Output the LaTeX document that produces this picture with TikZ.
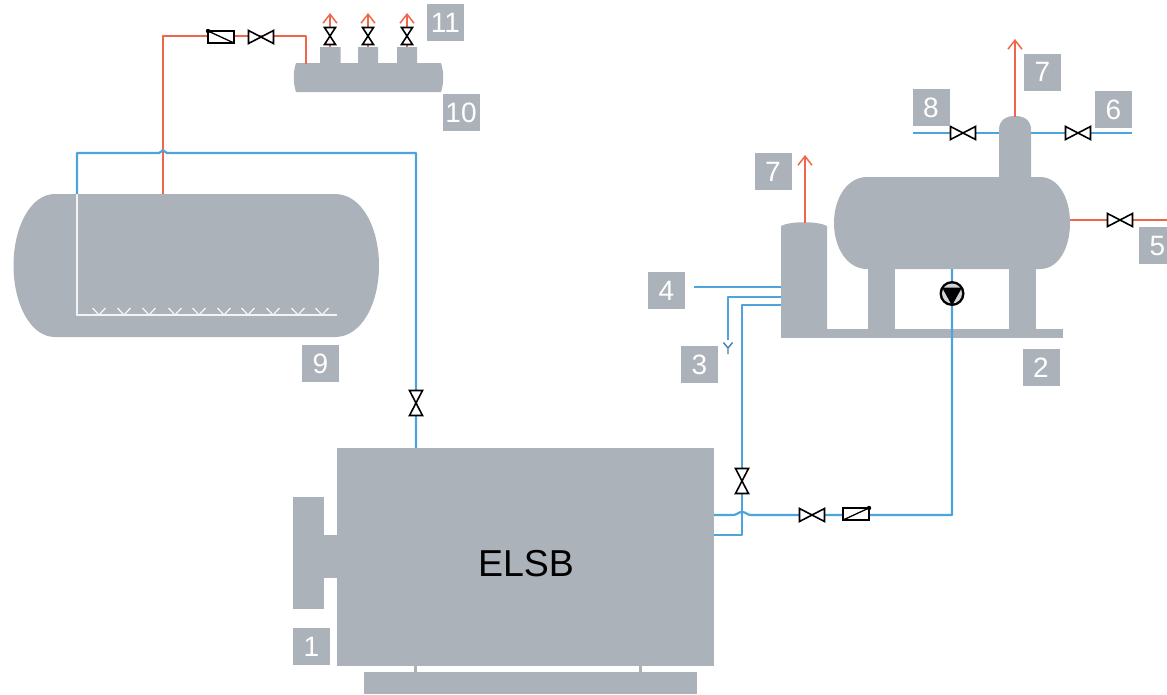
\documentclass[tikz,border=0pt]{standalone}
\usepackage{fontspec}
\setmainfont{Liberation Sans}
\usetikzlibrary{calc,arrows.meta}
\definecolor{vesselgrey}{HTML}{ACB2BA}
\definecolor{pipeblue}{HTML}{4DA3DC}
\definecolor{pipered}{HTML}{F0664A}
\tikzset{
  vessel/.style={fill=vesselgrey,draw=none},
  tag/.style={rectangle,fill=vesselgrey,text=white,minimum size=37pt,inner sep=0pt,font=\fontsize{28}{30}\selectfont},
  bluepipe/.style={draw=pipeblue,line width=2.2pt,line join=round},
  redpipe/.style={draw=pipered,line width=2.2pt,line join=round},
  redarrow/.style={redpipe,-{Straight Barb[length=9pt,width=14pt,line width=1.5pt]}},
  whitepipe/.style={draw=white!85!vesselgrey,line width=1.8pt},
  valveh/.pic={\draw[fill=white,line width=1.6pt,line join=miter] (-12.5,-6.5) -- (12.5,6.5) -- (12.5,-6.5) -- (-12.5,6.5) -- cycle;},
  valvev/.pic={\draw[fill=white,line width=1.6pt,line join=miter] (-6.5,-12.5) -- (6.5,12.5) -- (-6.5,12.5) -- (6.5,-12.5) -- cycle;},
  valvesmall/.pic={\draw[fill=white,line width=1.6pt,line join=miter] (-5.5,-8.5) -- (5.5,8.5) -- (-5.5,8.5) -- (5.5,-8.5) -- cycle;},
  checkdown/.pic={\draw[fill=white,line width=1.6pt] (-13,-6) rectangle (13,6);\draw[line width=1.3pt] (-13,-6) -- (13,6);\fill (-13,-6) circle (2.2);},
  checkup/.pic={\draw[fill=white,line width=1.6pt] (-13,-6) rectangle (13,6);\draw[line width=1.3pt] (-13,6) -- (13,-6);\fill (13,-6) circle (2.2);},
  sparger/.pic={\draw[draw=white!85!vesselgrey,line width=1.3pt] (-6.5,-7) -- (0,0) -- (6.5,-7);}
}
\begin{document}
\begin{tikzpicture}[x=1pt,y=-1pt]
\useasboundingbox (0,0) rectangle (1167,694);
\clip (0,0) rectangle (1167,694);
% ---- coordinates
\coordinate (tankA) at (77,194);
\coordinate (tankCorner) at (77,315);
\coordinate (tankEnd) at (337,315);
\coordinate (tankB) at (163,194);
\coordinate (a1) at (77,153);
\coordinate (a2) at (416,153);
\coordinate (hopTop) at (163,153);
\coordinate (a3) at (416,448);
\coordinate (r1) at (163,36);
\coordinate (r2) at (306,36);
\coordinate (r3) at (306,64);
\coordinate (vTop1) at (261,37);
\coordinate (ckTop) at (221,37);
\coordinate (vBoiler) at (416,403);
\coordinate (outA) at (714,515);
\coordinate (outB) at (714,535);
\coordinate (hopR) at (742,515);
\coordinate (cornerB) at (742,535);
\coordinate (fwTop) at (742,305);
\coordinate (fwIn) at (781,305);
\coordinate (vFw) at (742,481);
\coordinate (vLow) at (812,515);
\coordinate (ckLow) at (856,514);
\coordinate (c1) at (952,515);
\coordinate (vesselBot) at (952,269);
\coordinate (pump) at (952,293.5);
\coordinate (in4a) at (694,287);
\coordinate (in4b) at (781,287);
\coordinate (dr1) at (781,297);
\coordinate (dr2) at (728,297);
\coordinate (dr3) at (728,340);
\coordinate (blow8) at (913,133);
\coordinate (domeL) at (999,133);
\coordinate (domeR) at (1031,133);
\coordinate (blow6) at (1132,133);
\coordinate (v8) at (963,133);
\coordinate (v6) at (1078,133);
\coordinate (shellR) at (1070,220);
\coordinate (edge5) at (1167,220);
\coordinate (v5) at (1120,220);
\coordinate (domeTop) at (1015,117);
\coordinate (arr7a) at (1015,39);
\coordinate (smallTop) at (805,223);
\coordinate (arr7b) at (805,155);
\coordinate (stub1) at (330,47);
\coordinate (stub2) at (368,47);
\coordinate (stub3) at (407,47);
\coordinate (up1) at (330,13);
\coordinate (up2) at (368,13);
\coordinate (up3) at (407,13);
% ---- vessels
\path[vessel] (55,194) -- (335,194) .. controls (362,194) and (379,228) .. (379,265.5) .. controls (379,303) and (362,337) .. (335,337) -- (55,337) .. controls (30,337) and (13.5,303) .. (13.5,265.5) .. controls (13.5,228) and (30,194) .. (55,194) -- cycle;
\path[vessel] (296,63) -- (320,63) -- (320,47) -- (340.5,47) -- (340.5,63) -- (358,63) -- (358,47) -- (378,47) -- (378,63) -- (397,63) -- (397,47) -- (417,47) -- (417,63) -- (441,63) .. controls (444,72) and (444,83) .. (441,92) -- (296,92) .. controls (293,83) and (293,72) .. (296,63) -- cycle;
\path[vessel] (337,448) rectangle (714,666);
\path[vessel] (293,497) rectangle (323.5,609);
\path[vessel] (323,535) rectangle (338,578);
\path[vessel] (364,672) rectangle (697,694);
\path[vessel] (413.5,665) rectangle (416.5,673);
\path[vessel] (638.5,665) rectangle (641.5,673);
% feedwater vessel
\path[vessel] (867,177) -- (999,177) -- (999,130) .. controls (999,120) and (1006,116) .. (1015,116) .. controls (1024,116) and (1031,120) .. (1031,130) -- (1031,177) -- (1040,177) .. controls (1058,177) and (1070,197) .. (1070,223) .. controls (1070,249) and (1058,269) .. (1040,269) -- (867,269) .. controls (848,269) and (834,249) .. (834,223) .. controls (834,197) and (848,177) .. (867,177) -- cycle;
\path[vessel] (868,268) rectangle (895,330);
\path[vessel] (1009,268) rectangle (1036,330);
\path[vessel] (781,329) rectangle (1063,338);
\path[vessel] (781,330) -- (781,226) .. controls (790,221) and (818,221) .. (827,226) -- (827,330) -- cycle;
% ---- internal pipe of tank
\draw[whitepipe] (tankA) -- (tankCorner) -- (tankEnd);
\foreach \sx in {99,124,149,175,199,224,248,273,298,322}{\pic at (\sx,315) {sparger};}
% ---- pipes
\draw[redpipe] (tankB) -- (hopTop) -- (r1) -- (r2) -- (r3);
\draw[bluepipe] (tankA) -- (a1) -- ($(hopTop)+(-4,0)$) .. controls ($(hopTop)+(-1.5,0)$) and ($(hopTop)+(-1.5,-3)$) .. ($(hopTop)+(0,-3)$) .. controls ($(hopTop)+(1.5,-3)$) and ($(hopTop)+(1.5,0)$) .. ($(hopTop)+(4,0)$) -- (a2) -- (a3);
\draw[bluepipe] (outA) -- ($(hopR)+(-9,0)$) .. controls ($(hopR)+(-5,0)$) and ($(hopR)+(-4,-3)$) .. ($(hopR)+(0,-3)$) .. controls ($(hopR)+(4,-3)$) and ($(hopR)+(5,0)$) .. ($(hopR)+(9,0)$) -- (c1) -- (vesselBot);
\draw[bluepipe] (outB) -- (cornerB) -- (fwTop) -- (fwIn);
\draw[bluepipe] (in4a) -- (in4b);
\draw[bluepipe] (dr1) -- (dr2) -- (dr3);
\draw[draw=pipeblue!80!black,line width=1.4pt] (723.5,342.5) -- (728,348) -- (732.5,342.5) (728,348) -- (728,354);
\draw[bluepipe] (blow8) -- (domeL);
\draw[bluepipe] (domeR) -- (blow6);
\draw[redpipe] (shellR) -- (edge5);
\draw[redarrow] (domeTop) -- (arr7a);
\draw[redarrow] (smallTop) -- (arr7b);
\draw[redarrow] (stub1) -- (up1);
\draw[redarrow] (stub2) -- (up2);
\draw[redarrow] (stub3) -- (up3);
% ---- fittings
\pic at (ckTop) {checkdown};
\pic at (vTop1) {valveh};
\pic at (vBoiler) {valvev};
\pic at (vFw) {valvev};
\pic at (vLow) {valveh};
\pic at (ckLow) {checkup};
\pic at (v8) {valveh};
\pic at (v6) {valveh};
\pic at (v5) {valveh};
\pic at (330,36) {valvesmall};
\pic at (368,36) {valvesmall};
\pic at (407,36) {valvesmall};
% pump
\fill[black] (pump) circle (12.5);
\fill[white!45!vesselgrey] (pump) circle (10);
\fill[black] ($(pump)+(-10,-6)$) -- ($(pump)+(10,-6)$) -- ($(pump)+(0,12)$) -- cycle;
% ---- labels
\node[tag] (t1) at (311.5,646.5) {1};
\node[tag] (t2) at (1041,367.5) {2};
\node[tag] (t3) at (699.5,364.5) {3};
\node[tag] (t4) at (666.5,290.5) {4};
\node[tag] (t5) at (1157.5,245.5) {5};
\node[tag] (t6) at (1113.5,109.5) {6};
\node[tag] (t7a) at (1042.5,72) {7};
\node[tag] (t7b) at (773,171.5) {7};
\node[tag] (t8) at (931,107.5) {8};
\node[tag] (t9) at (320.5,363.5) {9};
\node[tag] (t10) at (461,112.5) {10};
\node[tag] (t11) at (445.5,22.5) {11};
\node[font=\fontsize{37.5}{39}\selectfont,text=black,inner sep=0pt] (elsb) at (526,564) {ELSB};
\end{tikzpicture}
\end{document}
